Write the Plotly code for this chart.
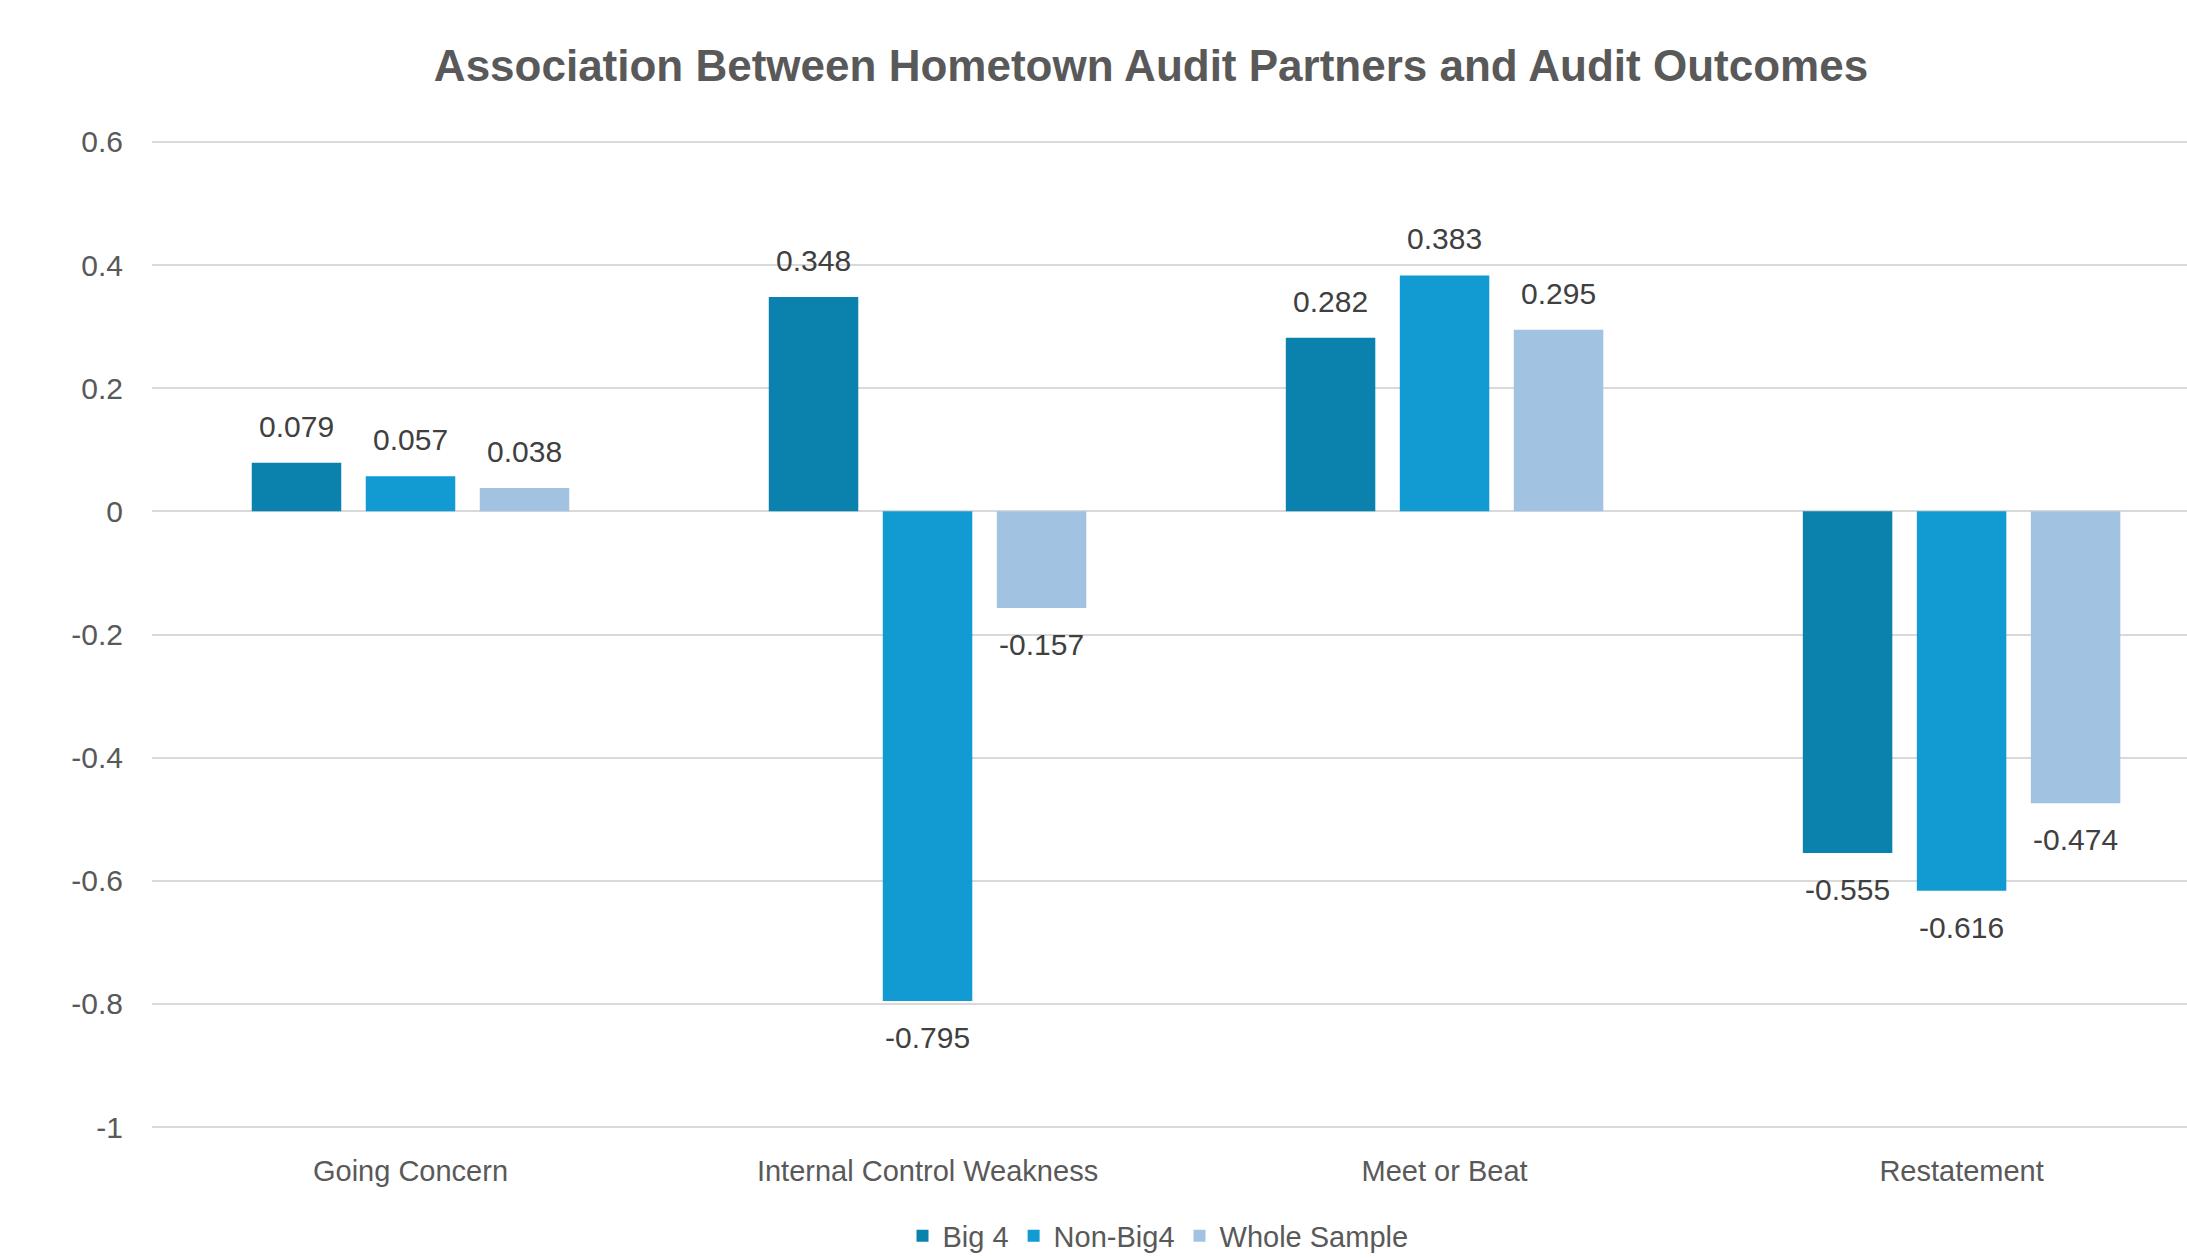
import plotly.graph_objects as go

categories = ["Going Concern", "Internal Control Weakness", "Meet or Beat", "Restatement"]
series_names = ["Big 4", "Non-Big4", "Whole Sample"]
big4 = [0.079, 0.348, 0.282, -0.555]
non_big4 = [0.057, -0.795, 0.383, -0.616]
whole_sample = [0.038, -0.157, 0.295, -0.474]
y_ticks = [0.6, 0.4, 0.2, 0, -0.2, -0.4, -0.6, -0.8, -1]
y_tick_text = ["0.6", "0.4", "0.2", "0", "-0.2", "-0.4", "-0.6", "-0.8", "-1"]

colors = ["#0B82AE", "#119BD2", "#A1C3E1"]
series_values = [big4, non_big4, whole_sample]

W, H = 2187, 1258
ML, MR, MT, MB = 152, 0, 140, 129
X_RANGE = [-0.5, 3.436]
Y_RANGE = [-1.003, 0.603]
BARGAP = 0.3385
BARGROUPGAP = 0.215

fig = go.Figure()
for name, vals, col in zip(series_names, series_values, colors):
    fig.add_trace(go.Bar(
        x=categories, y=vals, name=name,
        marker=dict(color=col, line=dict(width=0)),
        hoverinfo="x+y+name",
    ))

# data labels, placed per bar via the axis scales
plot_w = W - ML - MR
plot_h = H - MT - MB
px_per_cat = plot_w / (X_RANGE[1] - X_RANGE[0])
slot = px_per_cat * (1 - BARGAP) / len(series_names)
annotations = []
for i, (vals, col) in enumerate(zip(series_values, colors)):
    dx = (i - (len(series_names) - 1) / 2) * slot
    for c, v in zip(categories, vals):
        annotations.append(dict(
            x=c, y=v, xref="x", yref="y", text=f"{v:.3f}", showarrow=False,
            xshift=dx, yshift=18 if v >= 0 else -18,
            yanchor="bottom" if v >= 0 else "top",
            font=dict(family="Liberation Sans, Arial, sans-serif", size=30, color="#404040"),
        ))

# legend centre position in pixels converted to paper units
legend_cy = 1236
legend_y = -(legend_cy - (H - MB)) / plot_h

fig.update_layout(
    width=W, height=H,
    margin=dict(l=ML, r=MR, t=MT, b=MB, autoexpand=False),
    paper_bgcolor="white", plot_bgcolor="white",
    barmode="group", bargap=BARGAP, bargroupgap=BARGROUPGAP,
    title=dict(
        text="<b>Association Between Hometown Audit Partners and Audit Outcomes</b>",
        x=1151 / W, xref="container", xanchor="center",
        y=1 - 66 / H, yref="container", yanchor="middle",
        font=dict(family="Liberation Sans, Arial, sans-serif", size=44, color="#595959"),
    ),
    xaxis=dict(
        range=X_RANGE, showgrid=False, zeroline=False, showline=False, ticks="",
        tickfont=dict(family="Liberation Sans, Arial, sans-serif", size=29, color="#595959"),
        ticklabelstandoff=22,
    ),
    yaxis=dict(
        range=Y_RANGE, tickvals=y_ticks, ticktext=y_tick_text,
        showgrid=True, gridcolor="#D9D9D9", gridwidth=2,
        zeroline=True, zerolinecolor="#D9D9D9", zerolinewidth=2,
        showline=False, ticks="",
        tickfont=dict(family="Liberation Sans, Arial, sans-serif", size=30, color="#595959"),
        ticklabelstandoff=28,
    ),
    legend=dict(
        orientation="h", x=(1158 - ML) / plot_w, xanchor="center",
        y=legend_y, yanchor="middle",
        font=dict(family="Liberation Sans, Arial, sans-serif", size=29, color="#595959"),
        traceorder="normal",
    ),
    annotations=annotations,
    showlegend=True,
)

fig.write_html("out.html")
